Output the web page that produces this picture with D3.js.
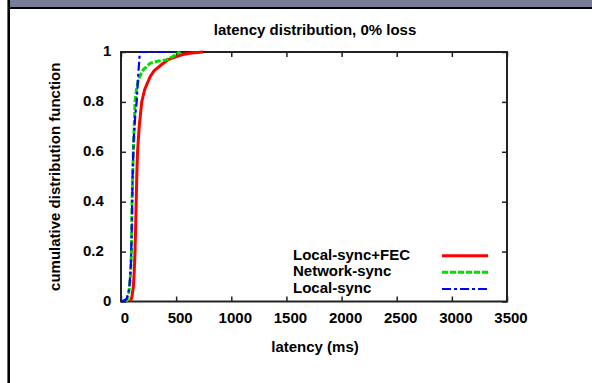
<!DOCTYPE html>
<html><head><meta charset="utf-8">
<script src="https://cdn.jsdelivr.net/npm/d3@7/dist/d3.min.js"></script>
<style>
html,body{margin:0;padding:0;background:#fff;}
text{font-family:"Liberation Sans",Arial,sans-serif;font-weight:bold;fill:#000;}
</style></head>
<body><svg id="c" width="592" height="383"></svg>
<script>
const title = "latency distribution, 0% loss";
const xLabel = "latency (ms)";
const yLabel = "cumulative distribution function";
const xTicks = [0,500,1000,1500,2000,2500,3000,3500];
const yTicks = [0,0.2,0.4,0.6,0.8,1];
const yTickLabels = ["0","0.2","0.4","0.6","0.8","1"];
const seriesNames = ["Local-sync+FEC","Network-sync","Local-sync"];
const seriesColors = ["#ff0000","#00e000","#0000ff"];
// [latency ms, cdf]
const localSyncFEC = [[85,0],[100,0.02],[112,0.06],[120,0.12],[127,0.2],[133,0.3],[138,0.4],[143,0.5],[150,0.6],[165,0.7],[188,0.8],[215,0.85],[263,0.9],[300,0.925],[369,0.95],[430,0.97],[490,0.98],[560,0.99],[640,0.996],[745,1]];
const networkSync = [[50,0],[70,0.03],[85,0.1],[95,0.2],[100,0.4],[112,0.6],[127,0.8],[140,0.85],[157,0.889],[180,0.91],[202,0.929],[263,0.955],[330,0.963],[414,0.969],[470,0.982],[517,0.996],[540,1]];
const localSync = [[10,0],[50,0.01],[75,0.05],[90,0.15],[98,0.3],[105,0.5],[115,0.65],[130,0.75],[142,0.8],[155,0.9],[166,0.97],[172,1],[470,1]];
const seriesData = [localSyncFEC, networkSync, localSync];

const svg = d3.select("#c");
// window frame
svg.append("rect").attr("x",9).attr("y",0).attr("width",583).attr("height",7).attr("fill","#787c99");
svg.append("line").attr("x1",8).attr("x2",592).attr("y1",8).attr("y2",8).attr("stroke","#000").attr("stroke-width",2);
svg.append("line").attr("x1",8.7).attr("x2",8.7).attr("y1",0).attr("y2",383).attr("stroke","#000").attr("stroke-width",2.6);

const L=121, R=507, T=52, B=301.5;
const x = d3.scaleLinear().domain([0,3500]).range([L,R]);
const y = d3.scaleLinear().domain([0,1]).range([B,T]);
const fs = 15;

// border
svg.append("rect").attr("x",L).attr("y",T).attr("width",R-L).attr("height",B-T)
  .attr("fill","none").attr("stroke","#222").attr("stroke-width",2);

const tickStyle = g => { g.select(".domain").remove(); g.selectAll(".tick line").attr("stroke","#222").attr("stroke-width",1.5); };

const gx = svg.append("g").attr("transform",`translate(0,${B})`)
  .call(d3.axisBottom(x).tickValues(xTicks).tickSize(-5).tickFormat(d3.format("d")));
tickStyle(gx);
gx.selectAll(".tick text").attr("y",18).attr("dy","0").attr("dx",3.5)
  .attr("font-size",fs).attr("font-family","Liberation Sans").attr("font-weight","bold").attr("fill","#000")
  .attr("dominant-baseline","middle");
const gxt = svg.append("g").attr("transform",`translate(0,${T})`)
  .call(d3.axisTop(x).tickValues(xTicks).tickSize(-5).tickFormat(""));
tickStyle(gxt);

const gy = svg.append("g").attr("transform",`translate(${L},0)`)
  .call(d3.axisLeft(y).tickValues(yTicks).tickSize(-5).tickFormat((d,i)=>yTickLabels[i]));
tickStyle(gy);
gy.selectAll(".tick text").attr("text-anchor","start")
  .attr("x",(d,i)=>-18-(yTickLabels[i].length-1)*10).attr("dy","0")
  .attr("dominant-baseline","middle")
  .attr("font-size",fs).attr("font-family","Liberation Sans").attr("font-weight","bold").attr("fill","#000");
const gyr = svg.append("g").attr("transform",`translate(${R},0)`)
  .call(d3.axisRight(y).tickValues(yTicks).tickSize(-5).tickFormat(""));
tickStyle(gyr);

// titles
svg.append("text").attr("x",315).attr("y",31).attr("text-anchor","middle").attr("dominant-baseline","middle")
  .attr("font-size",fs).text(title);
svg.append("text").attr("x",315).attr("y",348).attr("text-anchor","middle").attr("dominant-baseline","middle")
  .attr("font-size",fs).text(xLabel);
svg.append("text").attr("transform",`translate(56,${(T+B)/2}) rotate(-90)`).attr("text-anchor","middle")
  .attr("dominant-baseline","middle").attr("font-size",fs).text(yLabel);

const dashes = [null,"6,2","9,3,3,3"];
const widths = [3,3,2.2];
const line = d3.line().x(d=>x(d[0])).y(d=>y(d[1]));
// draw in order: red bottom, green, blue on top
seriesData.forEach((s,i)=>{
  svg.append("path").attr("d",line(s)).attr("fill","none").attr("stroke",seriesColors[i])
    .attr("stroke-width",widths[i]).attr("stroke-dasharray",dashes[i]);
});

// legend
const legY = [255.7,272.3,289];
seriesNames.forEach((n,i)=>{
  svg.append("text").attr("x",293).attr("y",legY[i]).attr("dominant-baseline","middle").attr("font-size",fs).text(n);
  svg.append("line").attr("x1",442).attr("x2",488).attr("y1",legY[i]).attr("y2",legY[i])
    .attr("stroke",seriesColors[i]).attr("stroke-width",widths[i]).attr("stroke-dasharray",dashes[i]);
});
</script></body></html>
